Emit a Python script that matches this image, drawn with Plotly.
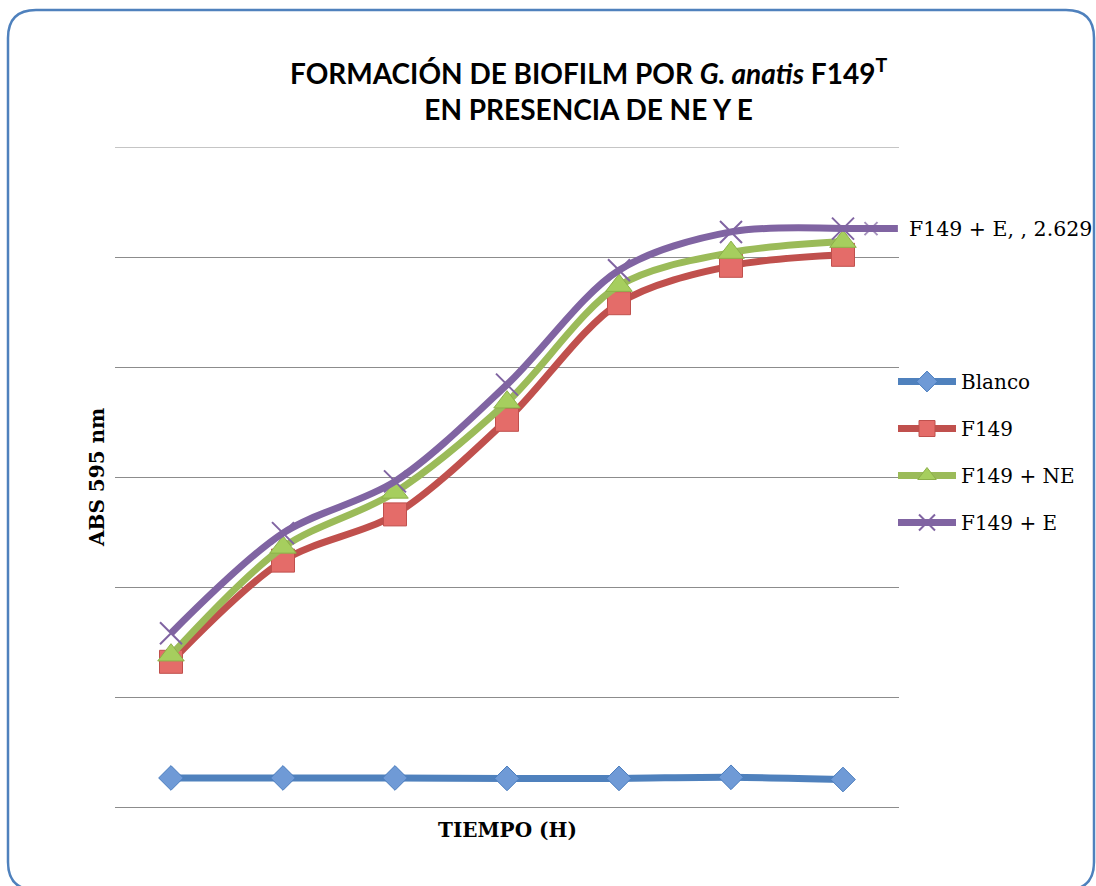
import plotly.graph_objects as go

# Sampling points (time axis, labels not shown on the chart)
puntos = [0, 1, 2, 3, 4, 5, 6]

# Absorbance at 595 nm for each condition
blanco = [0.132, 0.132, 0.132, 0.130, 0.130, 0.135, 0.125]
f149 = [0.66, 1.12, 1.33, 1.76, 2.29, 2.46, 2.51]
f149_ne = [0.69, 1.18, 1.43, 1.84, 2.37, 2.52, 2.57]
f149_e = [0.79, 1.245, 1.48, 1.92, 2.44, 2.614, 2.629]

W, H = 1096, 886
L, R, T, B = 115, 899, 147, 807  # plot area in pixels
Y_MAX = 3.0


def px(x):
    return (x - L) / (R - L)


def py(y):
    return (B - y) / (B - T)


fig = go.Figure()

series = [
    ("Blanco", blanco, "#4F81BD", dict(symbol="diamond", size=19, color="#6F9AD6",
                                        line=dict(color="#4A7DBE", width=1))),
    ("F149", f149, "#C0504D", dict(symbol="square", size=23, color="#E46C69",
                                    line=dict(color="#C0504D", width=1))),
    ("F149 + NE", f149_ne, "#9BBB59", dict(symbol="triangle-up", size=23, color="#A6CE5E",
                                          line=dict(color="#8DB04A", width=1))),
    ("F149 + E", f149_e, "#8064A2", dict(symbol="x-thin", size=22, color="#8064A2",
                                         line=dict(color="#8064A2", width=2))),
]

for name, vals, col, mk in series:
    fig.add_trace(go.Scatter(
        x=puntos, y=vals, name=name, mode="lines+markers",
        line=dict(color=col, width=7, shape="spline", smoothing=0.9),
        marker=mk, legendgroup=name, cliponaxis=False,
    ))

# Legend key drawn beside the value label of the last F149 + E point
x_last = puntos[-1]
fig.add_trace(go.Scatter(
    x=[x_last, x_last + 0.25, x_last + 0.49],
    y=[f149_e[-1]] * 3,
    mode="lines+markers", showlegend=False, hoverinfo="skip", cliponaxis=False,
    line=dict(color="#8064A2", width=7),
    marker=dict(symbol="x-thin", size=[0, 13, 0], color="#8064A2",
                line=dict(color="#8064A2", width=2)),
))

# Value label of the last F149 + E point
fig.add_annotation(
    x=px(907), y=f149_e[-1], xref="paper", yref="y",
    text=f"F149 + E, , {f149_e[-1]:.3f}", showarrow=False,
    xanchor="left", yanchor="middle",
    font=dict(family="DejaVu Serif", size=20.5, color="#000000"),
)

# Chart title
fig.add_annotation(
    x=px(588), y=py(90), xref="paper", yref="paper",
    text="FORMACIÓN DE BIOFILM POR <i>G. anatis</i> F149<sup>T</sup><br>EN PRESENCIA DE NE Y E",
    showarrow=False, xanchor="center", yanchor="middle", align="center",
    font=dict(family="Lato", size=28, color="#000000", weight="bold"),
)

# Axis titles
fig.add_annotation(
    x=px(97), y=py(478), xref="paper", yref="paper", text="<b>ABS 595 nm</b>",
    textangle=-90, showarrow=False, xanchor="center", yanchor="middle",
    font=dict(family="DejaVu Serif", size=20, color="#000000"),
)
fig.add_annotation(
    x=px(507), y=py(830), xref="paper", yref="paper", text="<b>TIEMPO (H)</b>",
    showarrow=False, xanchor="center", yanchor="middle",
    font=dict(family="DejaVu Serif", size=20, color="#000000"),
)

# Top gridline at the axis maximum
fig.add_shape(type="line", xref="paper", yref="y", x0=0, x1=1, y0=Y_MAX, y1=Y_MAX,
              line=dict(color="#8C8C8C", width=1), layer="below")

# Rounded frame around the chart
x0, y0, x1, y1, r = 8, 10, 1094, 890, 28
path = (
    f"M {px(x0 + r)},{py(y0)} L {px(x1 - r)},{py(y0)} "
    f"Q {px(x1)},{py(y0)} {px(x1)},{py(y0 + r)} "
    f"L {px(x1)},{py(y1 - r)} Q {px(x1)},{py(y1)} {px(x1 - r)},{py(y1)} "
    f"L {px(x0 + r)},{py(y1)} Q {px(x0)},{py(y1)} {px(x0)},{py(y1 - r)} "
    f"L {px(x0)},{py(y0 + r)} Q {px(x0)},{py(y0)} {px(x0 + r)},{py(y0)} Z"
)
fig.add_shape(type="path", path=path, xref="paper", yref="paper",
              line=dict(color="#4F81BD", width=2.5), layer="below")

fig.update_layout(
    width=W, height=H,
    margin=dict(l=L, r=W - R, t=T, b=H - B),
    paper_bgcolor="white", plot_bgcolor="white",
    showlegend=True,
    legend=dict(
        x=px(893), y=py(362), xanchor="left", yanchor="top",
        font=dict(family="DejaVu Serif", size=20, color="#000000"),
        itemwidth=58, tracegroupgap=18, bgcolor="rgba(0,0,0,0)",
    ),
    xaxis=dict(range=[-0.5, 6.5], showgrid=False, showticklabels=False,
               zeroline=False, showline=False, ticks=""),
    yaxis=dict(range=[0, Y_MAX], dtick=0.5, showgrid=True, gridcolor="#8C8C8C",
               gridwidth=1, showticklabels=False, zeroline=True,
               zerolinecolor="#8C8C8C", zerolinewidth=1, ticks=""),
)

fig.write_html("out.html")
